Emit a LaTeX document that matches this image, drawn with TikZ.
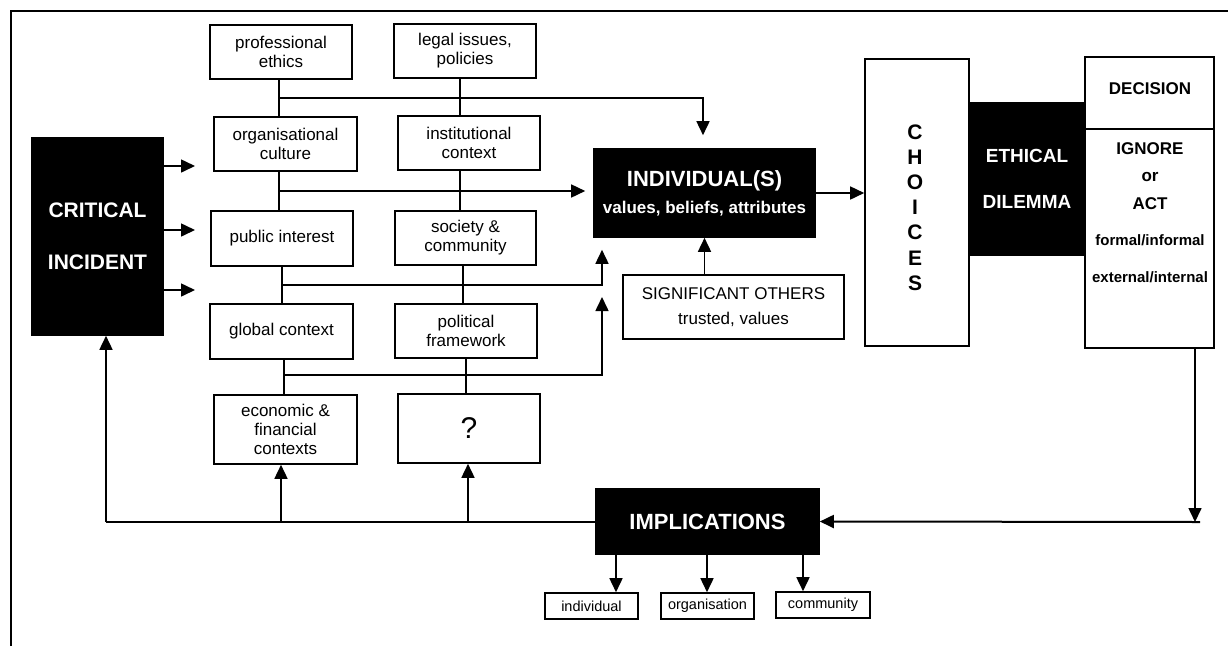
\documentclass[tikz,border=0pt]{standalone}
\usepackage{fontspec}
\setmainfont{Liberation Sans}
\usetikzlibrary{arrows.meta}
\begin{document}
\begin{tikzpicture}[x=1pt,y=-1pt,
  ln/.style={line width=1.6pt},
  arr/.style={line width=1.6pt,-{Triangle[length=14pt,width=13pt]}},
  box/.style={draw,line width=1.6pt,fill=white,align=center,inner sep=2pt,font=\fontsize{17}{19}\selectfont},
  blk/.style={draw,line width=1.6pt,fill=black,text=white,align=center,inner sep=2pt},
  sm/.style={draw,line width=1.6pt,align=center,font=\fontsize{14.5}{16}\selectfont,minimum height=26pt,minimum width=93pt,inner sep=0pt},
  bt/.style={font=\bfseries\fontsize{17}{19}\selectfont,inner sep=0pt},
  bs/.style={font=\bfseries\fontsize{15}{17}\selectfont,inner sep=0pt}]
\useasboundingbox (0,0) rectangle (1228,646);
% frame
\draw[ln] (11,646) -- (11,11) -- (1228,11);
% left column boxes
\node[box,minimum width=142pt,minimum height=54pt] (pe) at (281,52) {professional\\ethics};
\node[box,minimum width=142pt,minimum height=54pt] (li) at (465,51) {legal issues,\\policies};
\node[box,minimum width=143pt,minimum height=54pt] (oc) at (285.5,144) {organisational\\culture};
\node[box,minimum width=142pt,minimum height=54pt] (ic) at (469,143) {institutional\\context};
\node[box,minimum width=142pt,minimum height=55pt] (pi) at (282,238.5) {public interest};
\node[box,minimum width=141pt,minimum height=54pt] (sc) at (465.5,238) {society \&\\community};
\node[box,minimum width=143pt,minimum height=55pt] (gc) at (281.5,331.5) {global context};
\node[box,minimum width=142pt,minimum height=54pt] (pf) at (466,331) {political\\framework};
\node[box,minimum width=143pt,minimum height=69pt] (ef) at (285.5,429.5) {economic \&\\financial\\contexts};
\node[box,minimum width=142pt,minimum height=69pt,font=\fontsize{30}{32}\selectfont] (q) at (469,428.5) {?};
% black boxes
\node[blk,minimum width=131pt,minimum height=197pt,font=\bfseries\fontsize{21}{52}\selectfont] (ci) at (97.5,236.5) {CRITICAL\\INCIDENT};
\node[blk,minimum width=221pt,minimum height=88pt,font=\bfseries\fontsize{17}{27}\selectfont] (ind) at (704.5,193) {{\fontsize{22}{27}\selectfont INDIVIDUAL(S)}\\values, beliefs, attributes};
\node[box,minimum width=221pt,minimum height=64pt,font=\fontsize{17}{25}\selectfont] (so) at (733.5,307) {SIGNIFICANT OTHERS\\trusted, values};
% ethical dilemma, choices, decision
\node[fill=black,minimum width=116pt,minimum height=154pt,text=white,align=center,inner sep=0pt,font=\bfseries\fontsize{19}{46}\selectfont] (ed) at (1027,179) {ETHICAL\\DILEMMA};
\node[draw,line width=1.6pt,minimum width=104pt,minimum height=287pt] (ch) at (917,202.5) {};
\node[align=center,inner sep=0pt,font=\bfseries\fontsize{21}{25.2}\selectfont] (cht) at (915,207.5) {C\\H\\O\\I\\C\\E\\S};
\node[draw,line width=1.6pt,minimum width=129pt,minimum height=291pt] (dec) at (1149.5,202.5) {};
\coordinate (dvy) at (0,129);
\draw[ln] (dec.west |- dvy) -- (dec.east |- dvy);
\node[bt] (dect) at (1150,89) {DECISION};
\node[bt] (ign) at (1150,149) {IGNORE};
\node[bt] (or) at (1150,177) {or};
\node[bt] (act) at (1150,204) {ACT};
\node[bs] (fi) at (1150,240) {formal/informal};
\node[bs] (ei) at (1150,277) {external/internal};
% implications
\node[blk,minimum width=223pt,minimum height=65pt,font=\bfseries\fontsize{22}{26}\selectfont] (imp) at (707.5,521.5) {IMPLICATIONS};
\node[sm] (si) at (591.5,606) {individual};
\node[sm] (org) at (707.5,606) {organisation};
\node[sm,minimum width=94pt] (com) at (823,605) {community};
% coordinates
\coordinate (r1a) at (279,98); \coordinate (r1b) at (460,98); \coordinate (x1) at (703,98);
\coordinate (r2a) at (279,191); \coordinate (r2b) at (460,191);
\coordinate (r3a) at (282,285); \coordinate (r3b) at (463,285); \coordinate (r3c) at (602,285);
\coordinate (r4a) at (284,375); \coordinate (r4b) at (466,375); \coordinate (r4c) at (602,375); \coordinate (r4t) at (602,297);
\coordinate (a1) at (195,166); \coordinate (a2) at (195,230); \coordinate (a3) at (195,290);
\coordinate (fb0) at (106,522); \coordinate (fb1) at (281,522); \coordinate (fb2) at (468,522);
\coordinate (dv) at (1195,522); \coordinate (dh) at (1200,522);
\coordinate (i1) at (616,0); \coordinate (i2) at (707,0); \coordinate (i3) at (803,0);
% connectors
\draw[ln] (pe.south -| r1a) -- (oc.north -| r1a);
\draw[ln] (li.south -| r1b) -- (ic.north -| r1b);
\draw[arr,shorten >=13pt] (r1a) -- (x1) -- (x1 |- ind.north);
\draw[ln] (oc.south -| r2a) -- (pi.north -| r2a);
\draw[ln] (ic.south -| r2b) -- (sc.north -| r2b);
\draw[arr,shorten >=8pt] (r2a) -- (ind.west |- r2a);
\draw[ln] (pi.south -| r3a) -- (gc.north -| r3a);
\draw[ln] (sc.south -| r3b) -- (pf.north -| r3b);
\draw[arr,shorten >=12pt] (r3a) -- (r3c) -- (r3c |- ind.south);
\draw[ln] (gc.south -| r4a) -- (ef.north -| r4a);
\draw[ln] (pf.south -| r4b) -- (q.north -| r4b);
\draw[arr] (r4a) -- (r4c) -- (r4t);
\draw[arr] (ind.south |- so.north) -- (ind.south);
\draw[arr] (ind.east) -- (ind.east -| ch.west);
\draw[arr] (ci.east |- a1) -- (a1);
\draw[arr] (ci.east |- a2) -- (a2);
\draw[arr] (ci.east |- a3) -- (a3);
\draw[arr] (dec.south -| dv) -- (dv);
\draw[arr,line width=2pt] (dh) -- (imp.east);
\draw[ln] (imp.west |- fb0) -- (fb0);
\draw[arr] (fb0) -- (ci.south -| fb0);
\draw[arr] (fb1) -- (ef.south -| fb1);
\draw[arr] (fb2) -- (q.south -| fb2);
\draw[arr] (imp.south -| i1) -- (si.north -| i1);
\draw[arr] (imp.south -| i2) -- (org.north -| i2);
\draw[arr] (imp.south -| i3) -- (com.north -| i3);
\end{tikzpicture}
\end{document}
